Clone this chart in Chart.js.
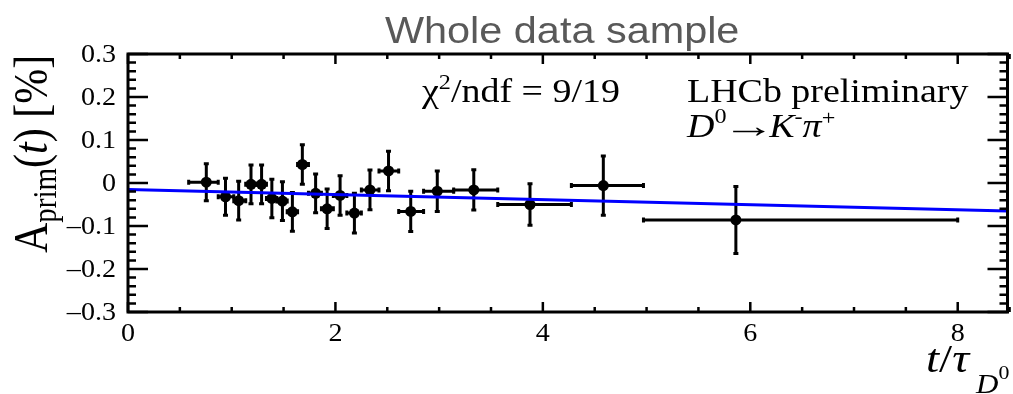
<!DOCTYPE html>
<html>
<head>
<meta charset="utf-8">
<title>Whole data sample</title>
<script src="https://cdn.jsdelivr.net/npm/chart.js@4.4.0/dist/chart.umd.min.js"></script>
<style>
  html, body { margin: 0; padding: 0; background: #ffffff; }
  canvas { display: block; }
</style>
</head>
<body>
<canvas id="myChart" width="1013" height="394"></canvas>
<script>
// Mean decay time of each bin (t / tau_D0)
const tiempoMedio = [0.755, 0.94, 1.067, 1.186, 1.288, 1.387, 1.489, 1.585, 1.681, 1.809, 1.92,
    2.045, 2.183, 2.333, 2.512, 2.726, 2.982, 3.334, 3.876, 4.583, 5.861];
// Bin edges (horizontal error bars)
const bordesBin = [0.585, 0.87, 1.02, 1.135, 1.237, 1.335, 1.435, 1.535, 1.635, 1.74, 1.865,
    1.98, 2.11, 2.25, 2.42, 2.61, 2.85, 3.14, 3.565, 4.275, 4.97, 8.0];
// A_prim(t) in % and its uncertainty
const asimetria = [0.002, -0.032, -0.041, -0.003, -0.003, -0.036, -0.042, -0.067, 0.043, -0.024, -0.060,
    -0.029, -0.070, -0.016, 0.028, -0.066, -0.019, -0.016, -0.050, -0.006, -0.086];
const errorAsim = [0.043, 0.043, 0.045, 0.045, 0.045, 0.045, 0.045, 0.045, 0.046, 0.045, 0.046,
    0.046, 0.046, 0.046, 0.046, 0.047, 0.047, 0.047, 0.048, 0.069, 0.078];

// Straight-line fit (end points)
const ajusteX = [0, 8.48];
const ajusteY = [-0.0154, -0.0652];

// Axis ticks
const xTicks = [0, 2, 4, 6, 8];
const xTickLabels = ["0", "2", "4", "6", "8"];
const yTicks = [0.3, 0.2, 0.1, 0, -0.1, -0.2, -0.3];
const yTickLabels = ["0.3", "0.2", "0.1", "0", "\u20130.1", "\u20130.2", "\u20130.3"];

const SERIF = "'Liberation Serif', 'Times New Roman', serif";
const SANS = "'Liberation Sans', Arial, sans-serif";
const STRETCH = 1.15; // the original picture is a bit wider than tall

// Draw text pieces one after the other (for sub/superscripts)
function drawRuns(ctx, x, y, runs, sx, rotate) {
    ctx.save();
    ctx.translate(x, y);
    ctx.scale(sx, 1);
    if (rotate) ctx.rotate(-Math.PI / 2);
    ctx.textAlign = "left";
    ctx.textBaseline = "alphabetic";
    let cx = 0;
    runs.forEach((r) => {
        const w = r.w || 1; // extra horizontal scale for one piece
        ctx.font = r.font;
        cx += r.dx || 0;
        ctx.save();
        ctx.translate(cx, r.dy || 0);
        ctx.scale(w, 1);
        ctx.fillText(r.t, 0, 0);
        ctx.restore();
        cx += ctx.measureText(r.t).width * w;
    });
    ctx.restore();
}

// Error bars under the markers
const errorBars = {
    id: "errorBars",
    beforeDatasetsDraw(chart) {
        const ctx = chart.ctx;
        const xs = chart.scales.x;
        const ys = chart.scales.y;
        ctx.save();
        ctx.strokeStyle = "#000000";
        ctx.lineWidth = 3;
        tiempoMedio.forEach((t, i) => {
            const px = xs.getPixelForValue(t);
            const py = ys.getPixelForValue(asimetria[i]);
            const x0 = xs.getPixelForValue(bordesBin[i]);
            const x1 = xs.getPixelForValue(bordesBin[i + 1]);
            const y0 = ys.getPixelForValue(asimetria[i] - errorAsim[i]);
            const y1 = ys.getPixelForValue(asimetria[i] + errorAsim[i]);
            ctx.beginPath();
            ctx.moveTo(x0, py); ctx.lineTo(x1, py);
            ctx.moveTo(px, y0); ctx.lineTo(px, y1);
            // small end caps
            ctx.moveTo(x0, py - 2.5); ctx.lineTo(x0, py + 2.5);
            ctx.moveTo(x1, py - 2.5); ctx.lineTo(x1, py + 2.5);
            ctx.moveTo(px - 2.5, y0); ctx.lineTo(px + 2.5, y0);
            ctx.moveTo(px - 2.5, y1); ctx.lineTo(px + 2.5, y1);
            ctx.stroke();
        });
        ctx.restore();
    },
};

// ROOT style frame, inward ticks and all the labels
const marco = {
    id: "marco",
    afterDraw(chart) {
        const ctx = chart.ctx;
        const xs = chart.scales.x;
        const ys = chart.scales.y;
        const { left, right, top, bottom } = chart.chartArea;
        ctx.save();
        ctx.strokeStyle = "#000000";
        ctx.fillStyle = "#000000";

        // ticks
        ctx.lineWidth = 2.5;
        ctx.beginPath();
        for (let v = 0; v <= 8.5; v += 0.5) {
            const px = xs.getPixelForValue(v);
            const len = xTicks.includes(v) ? 10 : 5;
            ctx.moveTo(px, bottom); ctx.lineTo(px, bottom - len);
            ctx.moveTo(px, top); ctx.lineTo(px, top + len);
        }
        for (let k = -15; k <= 15; k++) {
            const py = ys.getPixelForValue(k * 0.02);
            const len = k % 5 === 0 ? 20 : 8;
            ctx.moveTo(left, py); ctx.lineTo(left + len, py);
            ctx.moveTo(right, py); ctx.lineTo(right - len, py);
        }
        ctx.stroke();

        // frame
        ctx.lineWidth = 3;
        ctx.strokeRect(left, top, right - left, bottom - top);

        // y tick labels
        yTicks.forEach((v, i) => {
            const py = ys.getPixelForValue(v);
            ctx.save();
            ctx.translate(116, py + 1);
            ctx.scale(1.08, 1);
            ctx.font = "26px " + SERIF;
            ctx.textAlign = "right";
            ctx.textBaseline = "middle";
            ctx.fillText(yTickLabels[i], 0, 0);
            ctx.restore();
        });

        // x tick labels
        xTicks.forEach((v, i) => {
            const px = xs.getPixelForValue(v);
            ctx.save();
            ctx.translate(px, 341);
            ctx.scale(1.08, 1);
            ctx.font = "26px " + SERIF;
            ctx.textAlign = "center";
            ctx.textBaseline = "alphabetic";
            ctx.fillText(xTickLabels[i], 0, 0);
            ctx.restore();
        });

        // title
        ctx.fillStyle = "#595959";
        drawRuns(ctx, 385, 43, [{ t: "Whole data sample", font: "36px " + SANS }], STRETCH);
        ctx.fillStyle = "#000000";

        // chi2 text
        drawRuns(ctx, 422, 102, [
            { t: "\u03c7", font: "33px " + SERIF },
            { t: "2", font: "21px " + SERIF, dy: -13 },
            { t: "/ndf = 9/19", font: "33px " + SERIF },
        ], STRETCH);

        // LHCb label
        drawRuns(ctx, 687, 102, [{ t: "LHCb preliminary", font: "33px " + SERIF }], STRETCH);
        drawRuns(ctx, 687, 137, [
            { t: "D", font: "italic 33px " + SERIF },
            { t: "0", font: "21px " + SERIF, dy: -14 },
            { t: "\u2192", font: "33px " + SERIF, w: 1.4, dx: -4 },
            { t: "K", font: "italic 33px " + SERIF, dx: -5 },
            { t: "-", font: "21px " + SERIF, dy: -14 },
            { t: "\u03c0", font: "italic 33px " + SERIF },
            { t: "+", font: "21px " + SERIF, dy: -12 },
        ], STRETCH);

        // y axis title (rotated)
        drawRuns(ctx, 47, 253, [
            { t: "A", font: "42px " + SERIF },
            { t: "prim", font: "29px " + SERIF, dy: 8 },
            { t: "(", font: "42px " + SERIF },
            { t: "t", font: "italic 42px " + SERIF },
            { t: ") [%]", font: "42px " + SERIF },
        ], STRETCH, true);

        // x axis title
        drawRuns(ctx, 926, 372, [
            { t: "t", font: "italic 41px " + SERIF },
            { t: "/", font: "41px " + SERIF },
            { t: "\u03c4", font: "italic 41px " + SERIF },
            { t: "D", font: "italic 27px " + SERIF, dy: 21, dx: 6 },
            { t: "0", font: "19px " + SERIF, dy: 7 },
        ], STRETCH);

        ctx.restore();
    },
};

// Build the point list from the arrays
const puntos = tiempoMedio.map((t, i) => ({ x: t, y: asimetria[i] }));
const lineaAjuste = ajusteX.map((x, i) => ({ x: x, y: ajusteY[i] }));

const ctx = document.getElementById("myChart");
const chartInstance = new Chart(ctx, {
    type: "scatter",
    data: {
        datasets: [
            {
                label: "Fit",
                type: "line",
                data: lineaAjuste,
                borderColor: "#0000ff",
                borderWidth: 3,
                pointRadius: 0,
                fill: false,
                order: 0,
            },
            {
                label: "Data",
                data: puntos,
                backgroundColor: "#000000",
                borderWidth: 0,
                pointRadius: 5.5,
                order: 1,
            },
        ],
    },
    options: {
        responsive: false,
        devicePixelRatio: 1,
        animation: false,
        layout: {
            padding: { left: 128, right: 1, top: 54, bottom: 82 },
        },
        scales: {
            x: { type: "linear", min: 0, max: 8.48, display: false },
            y: { type: "linear", min: -0.3, max: 0.3, display: false },
        },
        plugins: {
            legend: { display: false },
            tooltip: { enabled: false },
            title: { display: false },
        },
    },
    plugins: [errorBars, marco],
});
</script>
</body>
</html>
